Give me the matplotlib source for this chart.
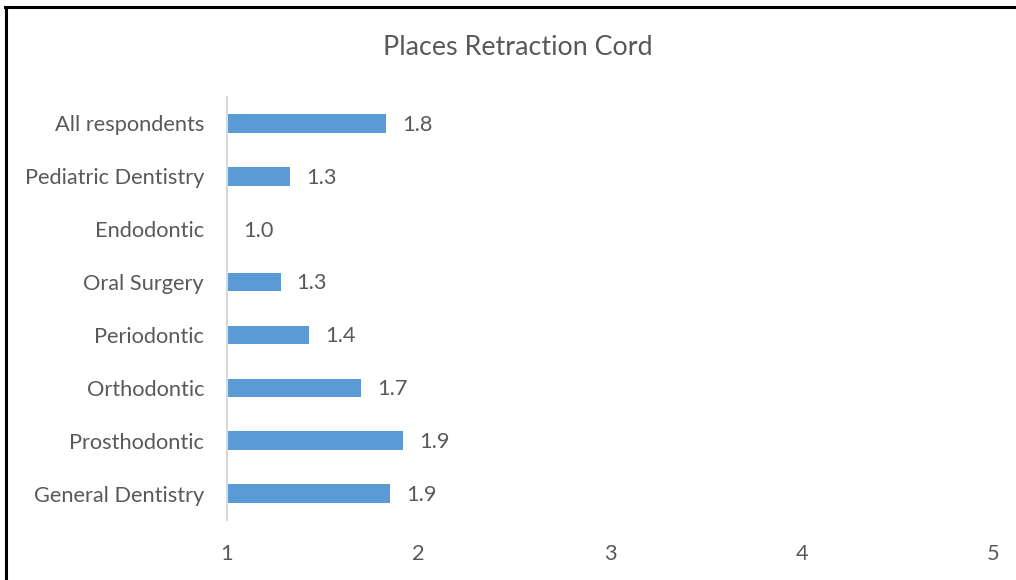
import matplotlib.pyplot as plt
from matplotlib.lines import Line2D

# Data (bottom to top)
CATEGORIES = ['General Dentistry', 'Prosthodontic', 'Orthodontic', 'Periodontic',
              'Oral Surgery', 'Endodontic', 'Pediatric Dentistry', 'All respondents']
VALUES = [1.85, 1.92, 1.70, 1.43, 1.28, 1.00, 1.33, 1.83]
X_TICKS = [1, 2, 3, 4, 5]
TITLE = 'Places Retraction Cord'

BAR_COLOR = '#5B9BD5'
TEXT_COLOR = '#595959'


def main():
    plt.rcParams['font.family'] = ['Lato', 'DejaVu Sans']

    fig = plt.figure(figsize=(10.16, 5.8), dpi=100)
    ax = fig.add_axes([0.2234, 0.1034, 0.7540, 0.7294])

    base = X_TICKS[0]
    widths = [v - base for v in VALUES]
    positions = list(range(len(CATEGORIES)))
    ax.barh(positions, widths, left=base, height=0.35, color=BAR_COLOR)

    for pos, val in zip(positions, VALUES):
        ax.annotate(f'{val:.1f}', xy=(val, pos), xytext=(11.5, -1.0),
                    textcoords='offset points', ha='left', va='center',
                    fontsize=15.7, color=TEXT_COLOR)

    ax.set_xlim(X_TICKS[0], X_TICKS[-1])
    ax.set_ylim(-0.5, len(CATEGORIES) - 0.5)
    ax.set_xticks(X_TICKS)
    ax.set_yticks(positions)
    ax.set_yticklabels(CATEGORIES)
    ax.tick_params(axis='both', length=0, labelsize=15.7, labelcolor=TEXT_COLOR)
    ax.tick_params(axis='y', pad=16.5)
    ax.tick_params(axis='x', pad=17)

    for side in ['top', 'right', 'bottom']:
        ax.spines[side].set_visible(False)
    ax.spines['left'].set_color('#D9D9D9')
    ax.spines['left'].set_linewidth(1.5)

    fig.text(0.5093, 0.918, TITLE, ha='center', va='center',
             fontsize=19.4, color=TEXT_COLOR)

    # chart border (only left and top edges visible in the crop)
    fig.add_artist(Line2D([0.0059, 0.0059], [0.0, 0.9879], color='black',
                          linewidth=2.2, transform=fig.transFigure))
    fig.add_artist(Line2D([0.0049, 1.0], [0.9879, 0.9879], color='black',
                          linewidth=2.2, transform=fig.transFigure))

    fig.savefig('out.png', dpi=100, facecolor='white')


if __name__ == "__main__":
    main()
